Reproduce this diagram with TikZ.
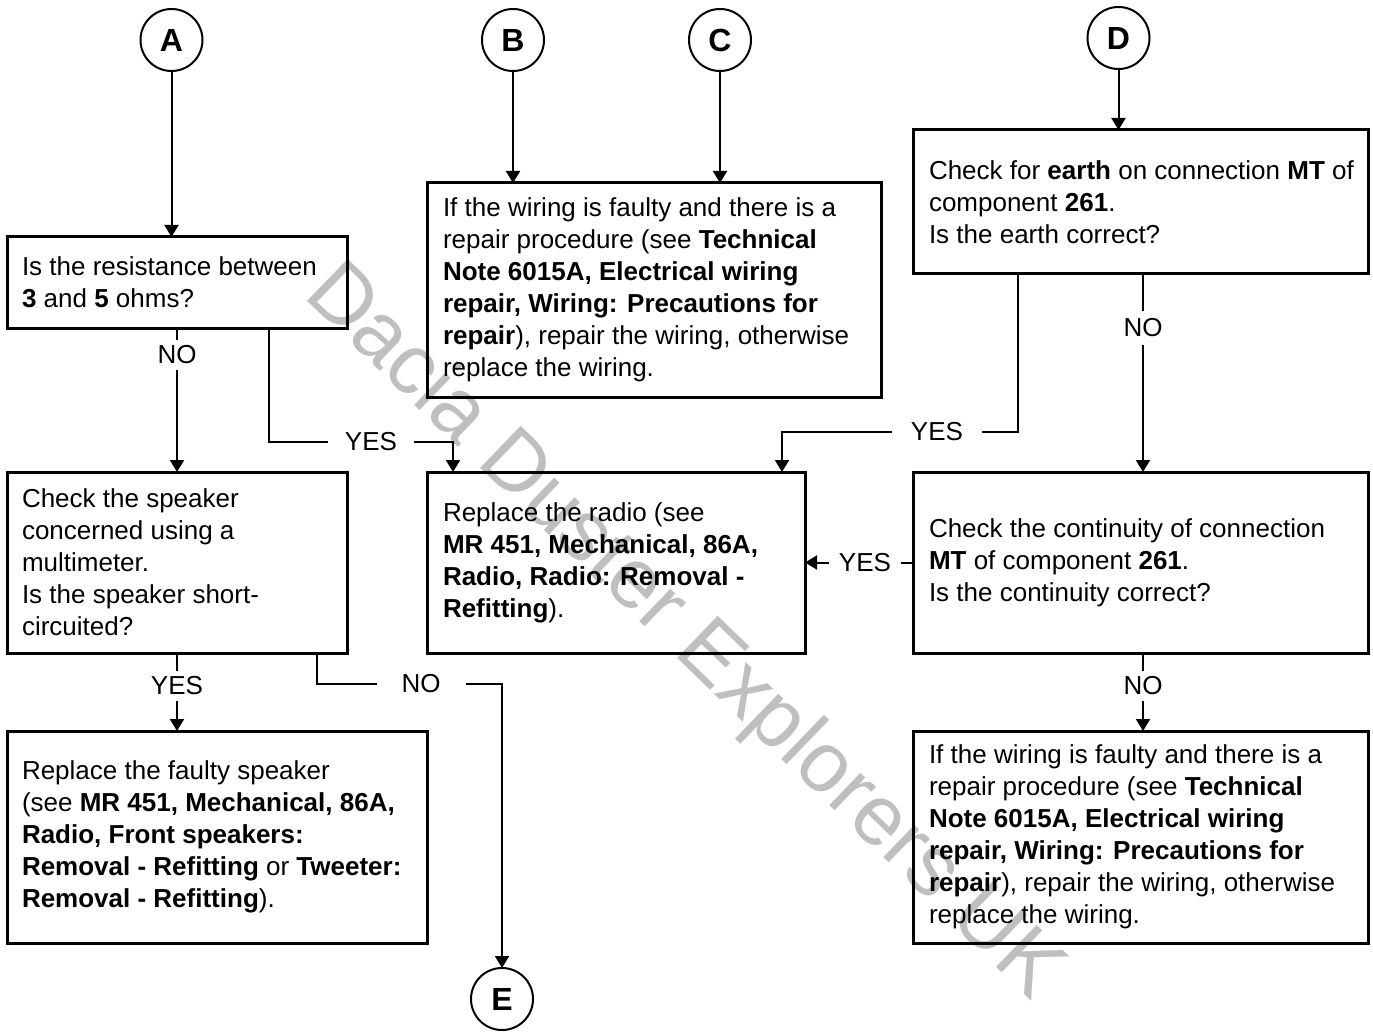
\documentclass[tikz,border=0pt]{standalone}
\usepackage{fontspec}
\setmainfont{Liberation Sans}
\usetikzlibrary{arrows.meta}
\begin{document}
\begin{tikzpicture}[x=1pt,y=-1pt,
  box/.style={draw,line width=3pt,inner sep=0pt,outer sep=0pt},
  txt/.style={inner sep=0pt,outer sep=0pt,align=left,anchor=west,font=\fontsize{26}{32}\selectfont},
  circ/.style={draw,circle,line width=2pt,minimum size=62pt,inner sep=0pt,outer sep=0pt,font=\fontsize{32}{38}\selectfont\bfseries},
  lab/.style={inner xsep=#1,inner ysep=6pt,outer sep=0pt,font=\fontsize{26}{32}\selectfont},
  lab/.default=10pt,
  conn/.style={line width=2pt},
  arr/.style={conn,-{Triangle[width=14pt,length=12pt]}},
  wm/.style={text=black!25,font=\fontsize{85}{94}\selectfont,rotate=-44,anchor=base west,inner sep=0pt}
]
\useasboundingbox (0,0) rectangle (1373,1032);
% watermark
\node[wm] (wm) at (302,296) {Dacia Duster Explorers UK};
% boxes
\node[box,minimum width=340pt,minimum height=91pt]  (B1) at (177,282.5) {};
\node[box,minimum width=454pt,minimum height=214pt] (B2) at (654,290) {};
\node[box,minimum width=455pt,minimum height=144pt] (B3) at (1140.5,202) {};
\node[box,minimum width=340pt,minimum height=181pt] (B4) at (177,562.5) {};
\node[box,minimum width=378pt,minimum height=181pt] (B5) at (616,562.5) {};
\node[box,minimum width=455pt,minimum height=181pt] (B6) at (1140.5,562.5) {};
\node[box,minimum width=420pt,minimum height=212pt] (B7) at (217,837) {};
\node[box,minimum width=455pt,minimum height=212pt] (B8) at (1140.5,837) {};
% texts
\node[txt] (T1) at ([xshift=15pt]B1.west) {Is the resistance between\\\textbf{3} and \textbf{5} ohms?};
\node[txt] (T2) at ([xshift=16pt]B2.west) {If the wiring is faulty and there is a\\repair procedure (see \textbf{Technical}\\\textbf{Note 6015A, Electrical wiring}\\\textbf{repair, Wiring: Precautions for}\\\textbf{repair}), repair the wiring, otherwise\\replace the wiring.};
\node[txt] (T3) at ([xshift=16pt]B3.west) {Check for \textbf{earth} on connection \textbf{MT} of\\component \textbf{261}.\\Is the earth correct?};
\node[txt] (T4) at ([xshift=15pt]B4.west) {Check the speaker\\concerned using a\\multimeter.\\Is the speaker short-\\circuited?};
\node[txt] (T5) at ([xshift=16pt]B5.west) {Replace the radio (see\\\textbf{MR 451, Mechanical, 86A,}\\\textbf{Radio, Radio: Removal -}\\\textbf{Refitting}).};
\node[txt] (T6) at ([xshift=16pt]B6.west) {Check the continuity of connection\\\textbf{MT} of component \textbf{261}.\\Is the continuity correct?};
\node[txt] (T7) at ([xshift=15pt]B7.west) {Replace the faulty speaker\\(see \textbf{MR 451, Mechanical, 86A,}\\\textbf{Radio, Front speakers:}\\\textbf{Removal - Refitting} or \textbf{Tweeter:}\\\textbf{Removal - Refitting}).};
\node[txt] (T8) at ([xshift=16pt]B8.west) {If the wiring is faulty and there is a\\repair procedure (see \textbf{Technical}\\\textbf{Note 6015A, Electrical wiring}\\\textbf{repair, Wiring: Precautions for}\\\textbf{repair}), repair the wiring, otherwise\\replace the wiring.};
% circles
\node[circ] (A) at (171.5,40) {A};
\node[circ] (B) at (513,40) {B};
\node[circ] (C) at (720,40) {C};
\node[circ] (D) at (1118.5,38) {D};
\node[circ] (E) at (502,999) {E};
% labels
\node[lab] (nA) at (177,355) {NO};
\node[lab=17pt] (yA) at (371,442) {YES};
\node[lab=19pt] (yD) at (937,432) {YES};
\node[lab,inner ysep=8pt] (nD) at (1143,328) {NO};
\node[lab=10pt] (yR) at (865,562.5) {YES};
\node[lab] (nR) at (1143,686) {NO};
\node[lab] (yL) at (177,686) {YES};
\node[lab=25pt] (nE) at (421,684) {NO};
% connectors
\draw[arr] (A.south) -- (A.south |- B1.north);
\draw[conn] (B1.south) -- (nA.north);
\draw[arr] (nA.south) -- (B4.north);
\draw[conn] (269,0 |- B1.south) |- (yA.west);
\draw[arr] (yA.east) -| (453,0 |- B5.north);
\draw[arr] (B.south) -- (B.south |- B2.north);
\draw[arr] (C.south) -- (C.south |- B2.north);
\draw[arr] (D.south) -- (D.south |- B3.north);
\draw[conn] (1018,0 |- B3.south) |- (yD.east);
\draw[arr] (yD.west) -| (782,0 |- B5.north);
\draw[conn] (1143,0 |- B3.south) -- (nD.north);
\draw[arr] (nD.south) -- (1143,0 |- B6.north);
\draw[conn] (B6.west) -- (yR.east);
\draw[arr] (yR.west) -- (B5.east);
\draw[conn] (1143,0 |- B6.south) -- (nR.north);
\draw[arr] (nR.south) -- (1143,0 |- B8.north);
\draw[conn] (B4.south) -- (yL.north);
\draw[arr] (yL.south) -- (yL.south |- B7.north);
\draw[conn] (317,0 |- B4.south) |- (nE.west);
\draw[arr] (nE.east) -| (E.north);
\end{tikzpicture}
\end{document}
